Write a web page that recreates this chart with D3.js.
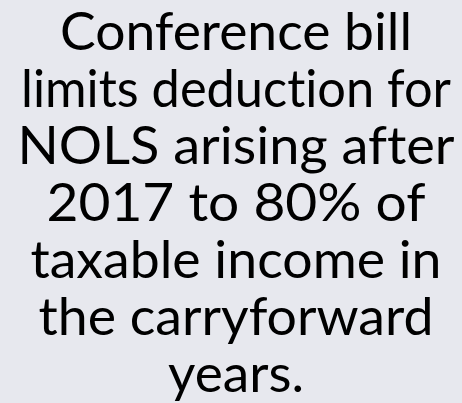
<!DOCTYPE html>
<html lang="en">
<head>
<meta charset="UTF-8">
<title>Conference bill</title>
<script src="https://d3js.org/d3.v7.min.js"></script>
<style>
  body { margin: 0; background: #e7e8ee; }
  text {
    font-family: "Lato", "Noto Sans", sans-serif;
    font-variant-ligatures: none;
    font-feature-settings: "liga" 0, "clig" 0;
    fill: #000;
  }
</style>
</head>
<body>
<div id="slide"></div>
<script>
    const width = 462, height = 403;

    // slide text, one entry per line
    const lines = [
        "Conference bill",
        "limits deduction for",
        "NOLS arising after",
        "2017 to 80% of",
        "taxable income in",
        "the carryforward",
        "years."
    ];

    // measured ink width of each line in the reference (layout only)
    const lineWidth = [352, 430, 437, 379, 411, 395, 136];

    const svg = d3.select("#slide").append("svg")
        .attr("width", width)
        .attr("height", height);

    svg.append("rect")
        .attr("width", width)
        .attr("height", height)
        .attr("fill", "#e7e8ee");

    // baselines, 57px apart
    const y = d3.scaleLinear()
        .domain([0, lines.length - 1])
        .range([50, 392]);

    svg.append("g").selectAll("text")
        .data(lines)
        .enter().append("text")
        .attr("x", 236)
        .attr("y", (d, i) => y(i))
        .attr("text-anchor", "middle")
        .attr("font-size", 52)
        .attr("textLength", (d, i) => lineWidth[i])
        .attr("lengthAdjust", "spacingAndGlyphs")
        .text(d => d);
</script>
</body>
</html>
